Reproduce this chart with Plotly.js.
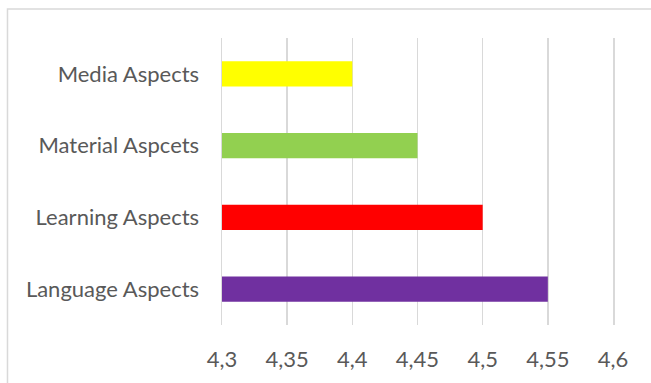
<!DOCTYPE html>
<html>
<head>
<meta charset="utf-8">
<script src="https://cdn.plot.ly/plotly-3.0.1.min.js"></script>
<style>
  html, body { margin: 0; padding: 0; background: #ffffff; }
  #chart { width: 651px; height: 383px; }
</style>
</head>
<body>
<div id="chart"></div>
<script>
// Average scores per aspect (bottom to top)
const categories = ['Language Aspects', 'Learning Aspects', 'Material Aspcets', 'Media Aspects'];
const scores = [4.55, 4.5, 4.45, 4.4];
const barColors = ['#7030A0', '#FF0000', '#92D050', '#FFFF00'];

// Value axis ticks, written with a decimal comma
const tickValues = [4.3, 4.35, 4.4, 4.45, 4.5, 4.55, 4.6];
const tickLabels = ['4,3', '4,35', '4,4', '4,45', '4,5', '4,55', '4,6'];

const labelFont = { family: 'Lato, "Open Sans", sans-serif', size: 22, color: '#595959' };
const gridColor = '#d9d9d9';

const trace = {
  type: 'bar',
  orientation: 'h',
  x: scores,
  y: categories,
  marker: { color: barColors },
  hoverinfo: 'x+y'
};

const layout = {
  width: 651,
  height: 383,
  margin: { l: 222, r: 38, t: 38, b: 58 },
  paper_bgcolor: '#ffffff',
  plot_bgcolor: '#ffffff',
  showlegend: false,
  bargap: 0.65,
  separators: ',.',
  xaxis: {
    range: [4.3, 4.6],
    tickvals: tickValues,
    ticktext: tickLabels,
    showgrid: true,
    gridcolor: gridColor,
    gridwidth: 1.5,
    zeroline: false,
    showline: false,
    ticks: '',
    ticklabelstandoff: 19,
    tickfont: labelFont,
    fixedrange: true
  },
  yaxis: {
    type: 'category',
    categoryorder: 'array',
    categoryarray: categories,
    showgrid: false,
    zeroline: false,
    // left/right edge lines stand in for the 4,3 and 4,6 gridlines
    showline: true,
    mirror: true,
    linecolor: gridColor,
    linewidth: 1.5,
    ticks: '',
    ticklabelstandoff: 17,
    tickfont: labelFont,
    fixedrange: true
  },
  shapes: [{
    // chart-area frame
    type: 'rect',
    xref: 'paper', yref: 'paper',
    x0: -0.5486, x1: 1.2, y0: -0.3, y1: 1.101,
    line: { color: '#d9d9d9', width: 1.5 },
    fillcolor: 'rgba(0,0,0,0)',
    layer: 'below'
  }]
};

Plotly.newPlot('chart', [trace], layout, { displayModeBar: false, staticPlot: true });
</script>
</body>
</html>
